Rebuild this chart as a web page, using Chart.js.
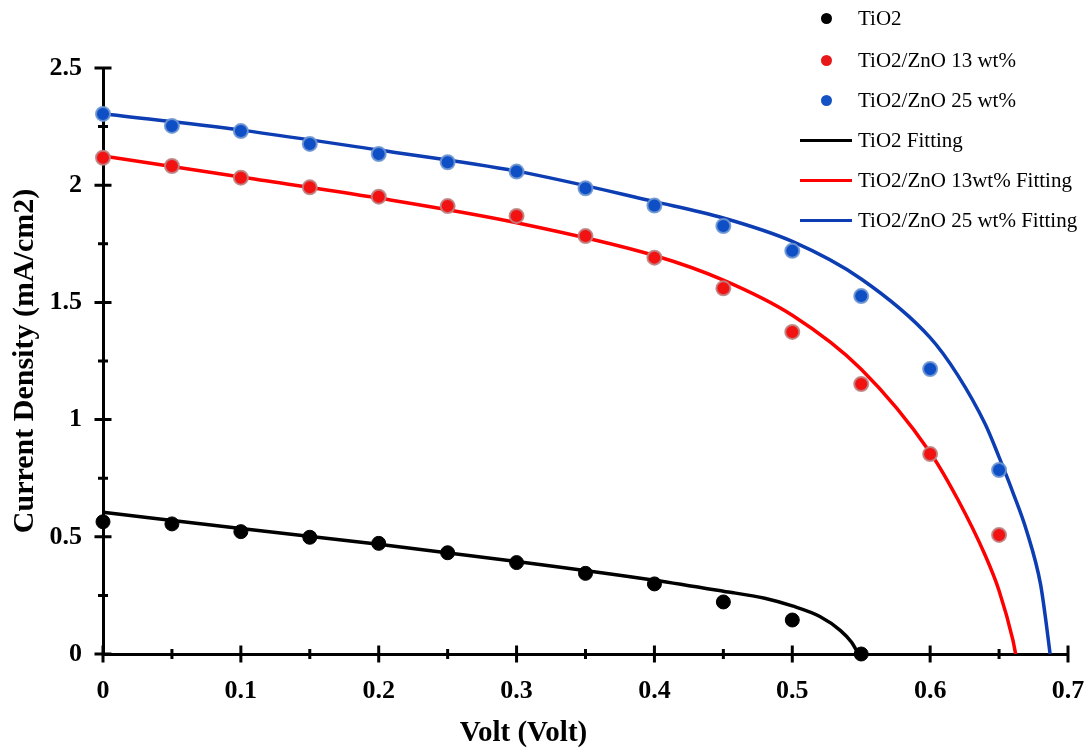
<!DOCTYPE html>
<html>
<head>
<meta charset="utf-8">
<script src="https://cdn.jsdelivr.net/npm/chart.js@4.4.1/dist/chart.umd.min.js"></script>
<style>
  body { margin: 0; background: #fff; }
  #wrap { position: relative; width: 1089px; height: 749px; }
  #legend { position: absolute; left: 0; top: 0; font-family: "Liberation Serif", "Times New Roman", serif; font-size: 21px; color: #000; }
  .row { position: absolute; left: 858px; white-space: nowrap; line-height: 24px; }
  .dot { position: absolute; width: 11px; height: 11px; border-radius: 50%; }
  .seg { position: absolute; width: 52px; height: 3px; }
</style>
</head>
<body>
<div id="wrap">
  <canvas id="myChart"></canvas>
  <div id="legend"></div>
</div>
<script>
// measured points (V, mA/cm2)
const volts = [0, 0.05, 0.1, 0.15, 0.2, 0.25, 0.3, 0.35, 0.4, 0.45, 0.5, 0.55, 0.6, 0.65];
const tio2J = [0.564, 0.555, 0.522, 0.498, 0.472, 0.432, 0.390, 0.344, 0.299, 0.222, 0.145, 0.0];
const zno13J = [2.117, 2.082, 2.032, 1.991, 1.951, 1.911, 1.869, 1.783, 1.691, 1.560, 1.374, 1.152, 0.853, 0.508];
const zno25J = [2.304, 2.253, 2.231, 2.176, 2.133, 2.098, 2.058, 1.987, 1.913, 1.826, 1.720, 1.527, 1.216, 0.785];

// fitting curves
const tio2FitV = [0, 0.1, 0.2, 0.3, 0.4, 0.45, 0.48, 0.5, 0.52, 0.535, 0.543, 0.548];
const tio2FitJ = [0.605, 0.535, 0.468, 0.395, 0.315, 0.268, 0.238, 0.205, 0.160, 0.100, 0.050, 0];
const zno13FitV = [0, 0.1, 0.2, 0.3, 0.4, 0.45, 0.5, 0.55, 0.6, 0.62, 0.64, 0.65, 0.66, 0.662];
const zno13FitJ = [2.125, 2.035, 1.945, 1.840, 1.700, 1.595, 1.445, 1.215, 0.860, 0.660, 0.420, 0.270, 0.060, 0];
const zno25FitV = [0, 0.1, 0.2, 0.3, 0.4, 0.45, 0.5, 0.55, 0.6, 0.62, 0.64, 0.65, 0.66, 0.67, 0.68, 0.684, 0.687];
const zno25FitJ = [2.305, 2.235, 2.150, 2.060, 1.930, 1.860, 1.760, 1.600, 1.350, 1.190, 0.980, 0.840, 0.690, 0.525, 0.300, 0.140, 0];

const xTicks = [0, 0.1, 0.2, 0.3, 0.4, 0.5, 0.6, 0.7];
const yTicks = [0, 0.5, 1, 1.5, 2, 2.5];

const pts = (xs, ys) => ys.map((y, i) => ({ x: xs[i], y: y }));

const serif = '"Liberation Serif", "Times New Roman", serif';

// cross ticks on both axes plus x axis title
const axisDecor = {
    id: 'axisDecor',
    beforeDatasetsDraw(chart) {
        const c = chart.ctx;
        const xs = chart.scales.x, ys = chart.scales.y;
        const x0 = xs.getPixelForValue(0), y0 = ys.getPixelForValue(0);
        c.save();
        c.strokeStyle = '#000';
        c.lineWidth = 3;
        c.beginPath();
        for (let i = 0; i < xTicks.length; i++) {
            const px = xs.getPixelForValue(xTicks[i]);
            c.moveTo(px, y0 - 8.5); c.lineTo(px, y0 + 8.5);
            if (i < xTicks.length - 1) {
                const mx = xs.getPixelForValue((xTicks[i] + xTicks[i + 1]) / 2);
                c.moveTo(mx, y0 - 5); c.lineTo(mx, y0 + 5);
            }
        }
        for (let i = 0; i < yTicks.length; i++) {
            const py = ys.getPixelForValue(yTicks[i]);
            c.moveTo(x0 - 8.5, py); c.lineTo(x0 + 8.5, py);
            if (i < yTicks.length - 1) {
                const my = ys.getPixelForValue((yTicks[i] + yTicks[i + 1]) / 2);
                c.moveTo(x0 - 5, my); c.lineTo(x0 + 5, my);
            }
        }
        c.stroke();
        c.fillStyle = '#000';
        c.font = 'bold 29px ' + serif;
        c.textAlign = 'center';
        c.textBaseline = 'alphabetic';
        c.fillText('Volt (Volt)', xs.getPixelForValue(0.305), 741);
        c.restore();
    }
};

const ctx = document.getElementById('myChart').getContext('2d');
const myChart = new Chart(ctx, {
    type: 'scatter',
    data: {
        datasets: [
            { label: 'TiO2', data: pts(volts, tio2J), pointRadius: 7, pointBackgroundColor: '#000', pointBorderColor: '#000', pointBorderWidth: 1, order: 1 },
            { label: 'TiO2/ZnO 13 wt%', data: pts(volts, zno13J), pointRadius: 7, pointBackgroundColor: '#f21212', pointBorderColor: 'rgba(190,130,130,0.9)', pointBorderWidth: 2, order: 1 },
            { label: 'TiO2/ZnO 25 wt%', data: pts(volts, zno25J), pointRadius: 7, pointBackgroundColor: '#0f4fc6', pointBorderColor: 'rgba(110,150,210,0.9)', pointBorderWidth: 2, order: 1 },
            { label: 'TiO2 Fitting', data: pts(tio2FitV, tio2FitJ), showLine: true, borderColor: '#000', borderWidth: 3.5, pointRadius: 0, cubicInterpolationMode: 'monotone', order: 2 },
            { label: 'TiO2/ZnO 13wt% Fitting', data: pts(zno13FitV, zno13FitJ), showLine: true, borderColor: '#ff0000', borderWidth: 3.5, pointRadius: 0, cubicInterpolationMode: 'monotone', order: 2 },
            { label: 'TiO2/ZnO 25 wt% Fitting', data: pts(zno25FitV, zno25FitJ), showLine: true, borderColor: '#0c3db3', borderWidth: 3.5, pointRadius: 0, cubicInterpolationMode: 'monotone', order: 2 }
        ]
    },
    options: {
        responsive: true,
        maintainAspectRatio: false,
        animation: false,
        clip: false,
        layout: { padding: { top: 68, right: 21, left: 0, bottom: 0 } },
        plugins: { legend: { display: false }, tooltip: { enabled: false } },
        scales: {
            x: {
                type: 'linear',
                min: 0, max: 0.7,
                afterFit: s => { s.height = 95; s.paddingRight = 0; s.paddingLeft = 0; },
                afterBuildTicks: s => { s.ticks = xTicks.map(v => ({ value: v })); },
                grid: { display: false },
                border: { display: true, color: '#000', width: 3 },
                ticks: { color: '#000', padding: 14, font: { family: serif, size: 26, weight: 'bold' }, callback: v => String(v) }
            },
            y: {
                type: 'linear',
                min: 0, max: 2.5,
                afterFit: s => { s.width = 103; },
                afterBuildTicks: s => { s.ticks = yTicks.map(v => ({ value: v })); },
                grid: { display: false },
                border: { display: true, color: '#000', width: 3 },
                ticks: { color: '#000', padding: 13, font: { family: serif, size: 26, weight: 'bold' }, callback: v => String(v) },
                title: { display: true, text: 'Current Density (mA/cm2)', color: '#000', padding: { top: 7, bottom: 0 }, font: { family: serif, size: 30, weight: 'bold' } }
            }
        }
    },
    plugins: [axisDecor]
});

// legend as real text, laid over the plot like the original
const legendRows = [
    { text: 'TiO2', kind: 'dot', color: '#000', y: 18 },
    { text: 'TiO2/ZnO 13 wt%', kind: 'dot', color: '#e81818', y: 60 },
    { text: 'TiO2/ZnO 25 wt%', kind: 'dot', color: '#1553c4', y: 100 },
    { text: 'TiO2 Fitting', kind: 'seg', color: '#000', y: 140 },
    { text: 'TiO2/ZnO 13wt% Fitting', kind: 'seg', color: '#ff0000', y: 180 },
    { text: 'TiO2/ZnO 25 wt% Fitting', kind: 'seg', color: '#0c3db3', y: 220 }
];
const legendEl = document.getElementById('legend');
legendRows.forEach(r => {
    const m = document.createElement('div');
    m.className = r.kind;
    m.style.background = r.color;
    if (r.kind === 'dot') { m.style.left = '821px'; m.style.top = (r.y - 5.5) + 'px'; }
    else { m.style.left = '800px'; m.style.top = (r.y - 1.5) + 'px'; }
    legendEl.appendChild(m);
    const t = document.createElement('div');
    t.className = 'row';
    t.style.top = (r.y - 12) + 'px';
    t.textContent = r.text;
    legendEl.appendChild(t);
});
</script>
</body>
</html>
